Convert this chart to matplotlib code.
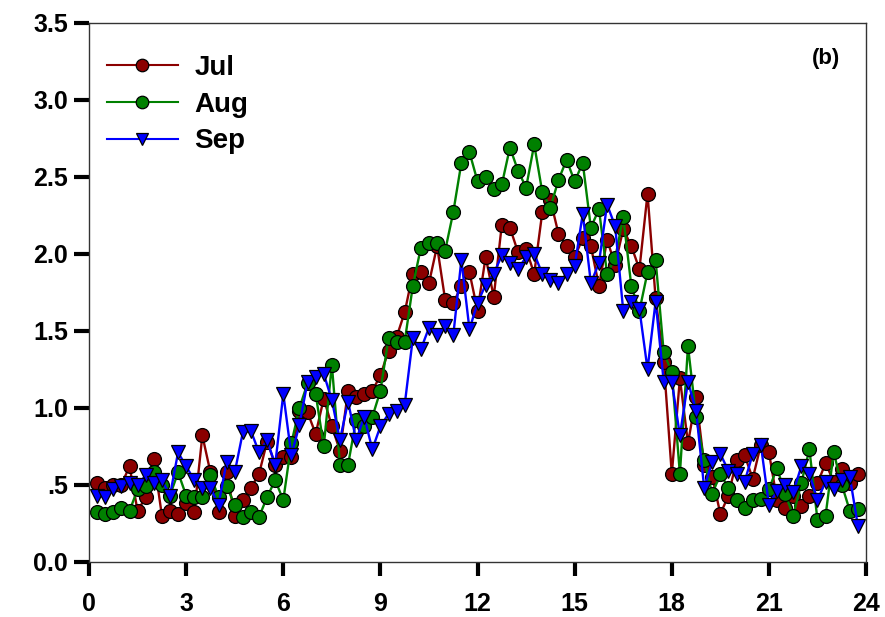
import numpy as np
import matplotlib.pyplot as plt

plt.rcParams['font.family'] = ['Liberation Sans', 'DejaVu Sans']
plt.rcParams['font.weight'] = 'bold'

# 15-minute time steps (hours)
hours = np.arange(1, 96) * 0.25

jul = [0.51, 0.48, 0.50, 0.50, 0.62, 0.33, 0.42, 0.67, 0.30, 0.33, 0.31, 0.38, 0.32,
       0.82, 0.58, 0.32, 0.58, 0.30, 0.40, 0.48, 0.57, 0.78, 0.63, 0.68, 0.68, 0.98,
       0.97, 0.83, 1.06, 0.88, 0.72, 1.11, 1.07, 1.09, 1.11, 1.21, 1.37, 1.46,
       1.62, 1.87, 1.88, 1.81, 2.05, 1.70, 1.68, 1.79, 1.88, 1.63, 1.98, 1.72, 2.19,
       2.17, 2.01, 2.03, 1.87, 2.27, 2.35, 2.13, 2.05, 1.98, 2.10,
       2.05, 1.79, 2.09, 1.93, 2.16, 2.05, 1.90, 2.39, 1.71,
       1.30, 0.57, 1.19, 0.77, 1.07, 0.63, 0.55, 0.31, 0.43, 0.66, 0.69, 0.54, 0.76,
       0.71, 0.40, 0.35, 0.43, 0.36, 0.43, 0.51, 0.64, 0.52, 0.60, 0.51, 0.57]

aug = [0.32, 0.31, 0.32, 0.35, 0.33, 0.47, 0.49, 0.58, 0.50, 0.43, 0.58, 0.43, 0.42,
       0.42, 0.56, 0.42, 0.49, 0.37, 0.29, 0.32, 0.29, 0.42, 0.53, 0.40, 0.77, 1.00,
       1.16, 1.09, 0.75, 1.28, 0.63, 0.63, 0.92, 0.88, 0.94, 1.11, 1.45, 1.43, 1.43,
       1.79, 2.04, 2.07, 2.07, 2.02, 2.27, 2.59, 2.66, 2.47, 2.50, 2.42, 2.45,
       2.69, 2.54, 2.43, 2.71, 2.40, 2.30, 2.48, 2.61, 2.47, 2.59,
       2.17, 2.29, 1.87, 1.97, 2.24, 1.79, 1.63, 1.88, 1.96,
       1.36, 1.23, 0.57, 1.40, 0.94, 0.66, 0.44, 0.57, 0.48, 0.40, 0.35, 0.40, 0.41,
       0.47, 0.61, 0.44, 0.30, 0.51, 0.73, 0.27, 0.30, 0.71, 0.50, 0.33, 0.34]

sep = [0.43, 0.42, 0.47, 0.49, 0.51, 0.50, 0.56, 0.51, 0.53, 0.43, 0.71, 0.62, 0.53,
       0.48, 0.48, 0.37, 0.65, 0.58, 0.84, 0.85, 0.71, 0.79, 0.63, 1.09, 0.69,
       0.89, 1.17, 1.20, 1.22, 1.05, 0.79, 1.04, 0.79, 0.94, 0.73, 0.88, 0.96, 0.98, 1.02,
       1.45, 1.38, 1.52, 1.47, 1.53, 1.47, 1.96, 1.51, 1.68, 1.80, 1.87, 1.99,
       1.94, 1.90, 1.98, 2.00, 1.87, 1.83, 1.81, 1.87, 1.92,
       2.26, 1.81, 1.94, 2.32, 2.18, 1.63, 1.69, 1.64, 1.25, 1.69,
       1.17, 1.17, 0.82, 1.17, 0.98, 0.48, 0.65, 0.70, 0.59, 0.57, 0.52, 0.70, 0.76,
       0.37, 0.46, 0.50, 0.45, 0.62, 0.57, 0.40, 0.52, 0.47, 0.53, 0.55, 0.23]

xticks = [0, 3, 6, 9, 12, 15, 18, 21, 24]
yticks = [0.0, 0.5, 1.0, 1.5, 2.0, 2.5, 3.0, 3.5]
ylabels = ['0.0', '.5', '1.0', '1.5', '2.0', '2.5', '3.0', '3.5']

fig = plt.figure(figsize=(8.85, 6.17), dpi=100)
ax = fig.add_axes([0.1006, 0.0896, 0.878, 0.8734])

style = dict(linewidth=1.7, markersize=10, markeredgecolor='black', markeredgewidth=0.9)
ax.plot(hours, jul, color='#8B0000', marker='o', label='Jul', **style)
ax.plot(hours, aug, color='#008000', marker='o', label='Aug', **style)
ax.plot(hours, sep, color='#0000FF', marker='v', label='Sep', **style)

ax.set_xlim(0, 24)
ax.set_ylim(0, 3.5)
ax.set_xticks(xticks)
ax.set_yticks(yticks)
ax.set_yticklabels(ylabels)
ax.tick_params(axis='x', direction='out', length=10, width=3, labelsize=18, pad=12)
ax.tick_params(axis='y', direction='out', length=11, width=3, labelsize=18, pad=4)
for s in ax.spines.values():
    s.set_linewidth(1.0)
    s.set_color('#333333')

ax.text(0.948, 0.934, '(b)', transform=ax.transAxes, fontsize=16, fontweight='bold',
        ha='center', va='center')

leg = ax.legend(loc='upper left', bbox_to_anchor=(0.023, 0.94), frameon=False,
                fontsize=20, handlelength=2.55, handletextpad=0.6, labelspacing=0.38,
                borderpad=0, borderaxespad=0)
for h in leg.legend_handles:
    h.set_linewidth(1.5)
    h.set_markersize(9)

fig.savefig('out.png', dpi=100)
